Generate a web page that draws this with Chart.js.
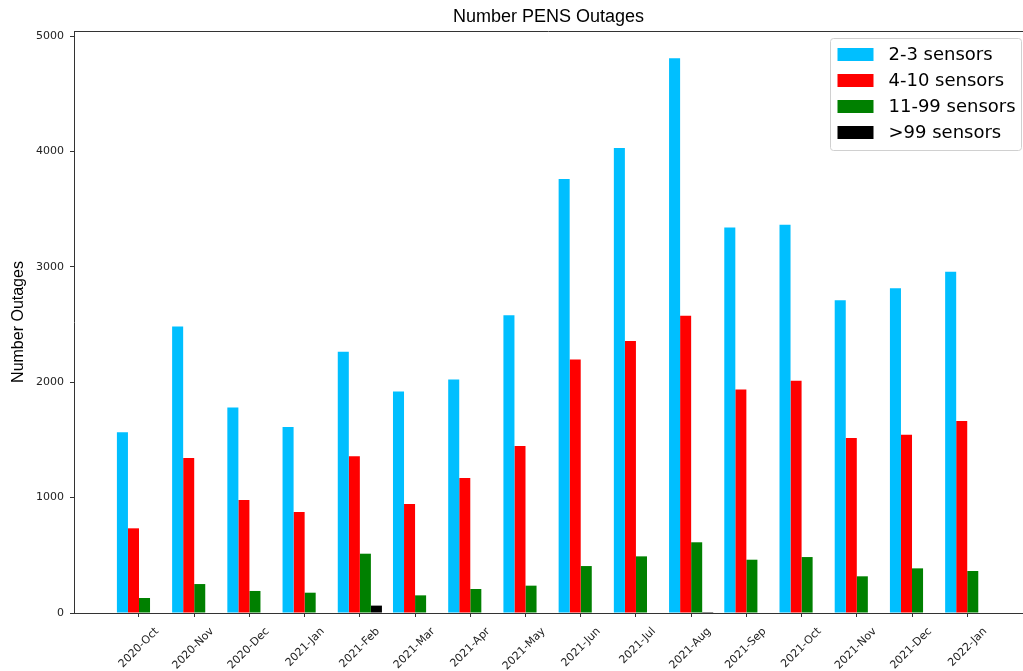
<!DOCTYPE html>
<html>
<head>
<meta charset="utf-8">
<script src="https://cdn.jsdelivr.net/npm/chart.js@4.4.1/dist/chart.umd.min.js"></script>
<style>
  html, body { margin: 0; padding: 0; background: #fff; }
  #wrap { position: relative; width: 1023px; height: 671px; }
</style>
</head>
<body>
<div id="wrap"><canvas id="chart" width="1023" height="671"></canvas></div>
<script>
const months = ['2020-Oct', '2020-Nov', '2020-Dec', '2021-Jan', '2021-Feb', '2021-Mar', '2021-Apr', '2021-May',
  '2021-Jun', '2021-Jul', '2021-Aug', '2021-Sep', '2021-Oct', '2021-Nov', '2021-Dec', '2022-Jan'];
const sensors2to3 = [1566, 2484, 1782, 1612, 2264, 1921, 2025, 2582, 3761, 4030, 4809, 3342, 3365, 2712, 2816, 2958];
const sensors4to10 = [734, 1343, 979, 875, 1358, 945, 1170, 1447, 2198, 2357, 2576, 1938, 2013, 1516, 1545, 1664];
const sensors11to99 = [130, 251, 191, 176, 514, 153, 208, 237, 407, 491, 613, 462, 485, 318, 387, 364];
const sensorsOver99 = [0, 0, 0, 0, 64, 0, 0, 0, 0, 0, 8, 0, 0, 0, 0, 0];
const yTicks = [0, 1000, 2000, 3000, 4000, 5000];

const toPoints = arr => arr.map((v, i) => ({ x: i, y: v }));

// top spine + boxed legend inside the plot, matplotlib style
const framePlugin = {
  id: 'frame',
  afterDraw(chart) {
    const { ctx, chartArea } = chart;
    ctx.save();
    ctx.strokeStyle = '#333';
    ctx.lineWidth = 1;
    ctx.beginPath();
    ctx.moveTo(chartArea.left, chartArea.top + 0.5);
    ctx.lineTo(chartArea.right, chartArea.top + 0.5);
    ctx.stroke();

    const w = 191, h = 112;
    const bx = chartArea.right - w - 1.5, by = chartArea.top + 7.5;
    ctx.fillStyle = 'rgba(255,255,255,0.8)';
    ctx.strokeStyle = '#d0d0d0';
    ctx.beginPath();
    ctx.roundRect(bx, by, w, h, 3);
    ctx.fill();
    ctx.stroke();

    ctx.font = '18px "DejaVu Sans"';
    ctx.textBaseline = 'middle';
    ctx.textAlign = 'left';
    chart.data.datasets.forEach((ds, i) => {
      const cy = by + 16 + i * 26;
      ctx.fillStyle = ds.backgroundColor;
      ctx.fillRect(bx + 7, cy - 6.5, 36, 13);
      ctx.fillStyle = '#000';
      ctx.fillText(ds.label, bx + 58, cy + 1);
    });
    ctx.restore();
  }
};

const ctx = document.getElementById('chart').getContext('2d');
new Chart(ctx, {
  type: 'bar',
  data: {
    datasets: [
      { label: '2-3 sensors', data: toPoints(sensors2to3), backgroundColor: '#00bfff' },
      { label: '4-10 sensors', data: toPoints(sensors4to10), backgroundColor: '#ff0000' },
      { label: '11-99 sensors', data: toPoints(sensors11to99), backgroundColor: '#008000' },
      { label: '>99 sensors', data: toPoints(sensorsOver99), backgroundColor: '#000000' }
    ]
  },
  options: {
    responsive: false,
    animation: false,
    devicePixelRatio: 1,
    categoryPercentage: 0.8,
    barPercentage: 1,
    layout: { padding: 0 },
    plugins: {
      legend: { display: false },
      tooltip: { enabled: false },
      title: {
        display: true,
        fullSize: false,
        text: 'Number PENS Outages',
        color: '#000',
        font: { family: '"Liberation Sans", Arial', size: 18, weight: 'normal' },
        padding: { top: 6, bottom: 3.4 }
      }
    },
    scales: {
      x: {
        type: 'linear',
        min: -1.177,
        max: 16.01,
        offset: false,
        grid: { offset: false, drawOnChartArea: false, drawTicks: true, tickLength: 4, color: '#333' },
        border: { color: '#333', width: 1 },
        ticks: {
          autoSkip: false,
          minRotation: 45,
          maxRotation: 45,
          labelOffset: 18,
          padding: 8,
          color: '#222',
          font: { family: '"DejaVu Sans"', size: 11 },
          callback: v => months[v] ?? ''
        },
        afterBuildTicks: s => { s.ticks = months.map((m, i) => ({ value: i })); },
        afterFit: s => { s.height = 58; }
      },
      y: {
        min: 0,
        max: 5045,
        grid: { drawOnChartArea: false, drawTicks: true, tickLength: 4, color: '#333' },
        border: { color: '#333', width: 1 },
        ticks: {
          padding: 6,
          color: '#222',
          font: { family: '"DejaVu Sans"', size: 11 },
          callback: v => String(v)
        },
        title: {
          display: true,
          text: 'Number Outages',
          color: '#000',
          font: { family: '"Liberation Sans", Arial', size: 16 },
          padding: { top: 9, bottom: 0 }
        },
        afterBuildTicks: s => { s.ticks = yTicks.map(v => ({ value: v })); },
        afterFit: s => { s.width = 74; }
      }
    }
  },
  plugins: [framePlugin]
});
</script>
</body>
</html>
